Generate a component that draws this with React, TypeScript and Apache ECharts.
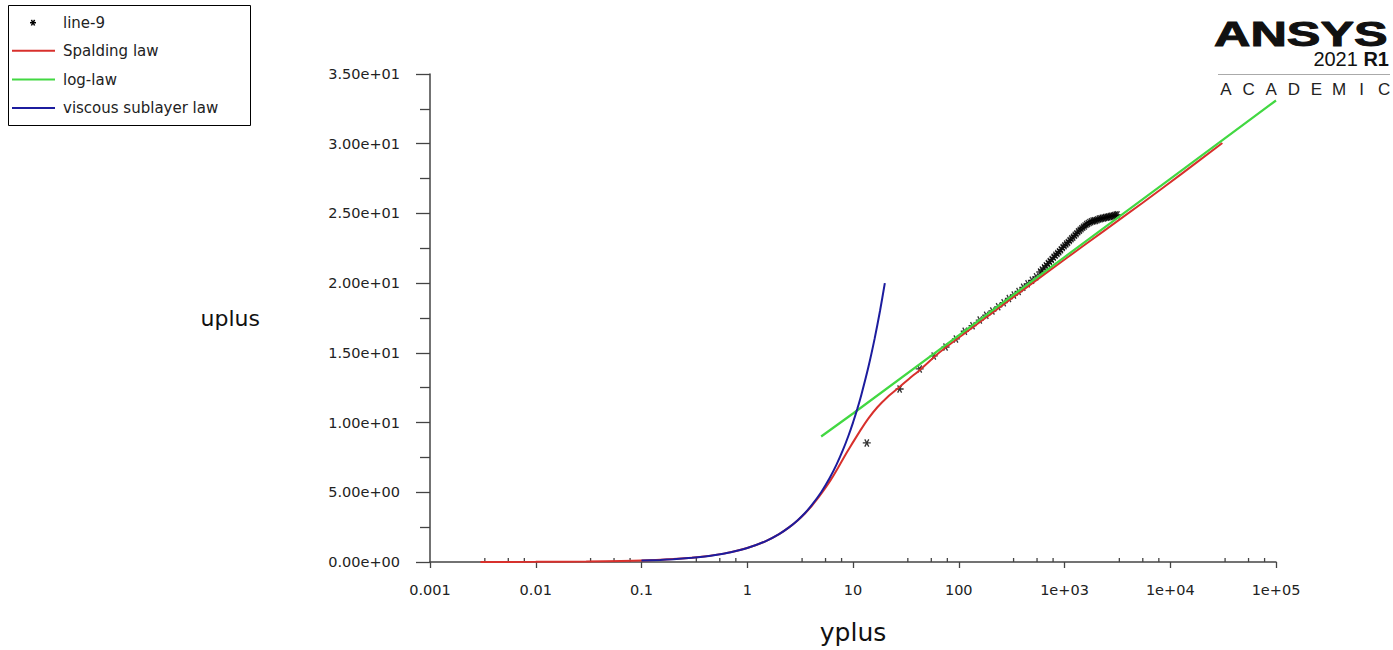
import React, { useEffect, useRef } from 'react';
import * as echarts from 'echarts';

// ---- data ----
const xTickValues = [0.001, 0.01, 0.1, 1, 10, 100, 1000, 10000, 100000];
const xTickLabels = ['0.001', '0.01', '0.1', '1', '10', '100', '1e+03', '1e+04', '1e+05'];
const minorTickFactors = [3.3, 5.5, 7.8];
const minorTickDecades = [0.001, 0.01, 0.1, 1, 10, 100, 1000, 10000];

const seriesNames = ['line-9', 'Spalding law', 'log-law', 'viscous sublayer law'];
const seriesColors = ['#000000', '#d8302c', '#42d842', '#1c1c9e'];

// line-9 : [yplus, uplus]
const line9: number[][] = [
  [13.5, 8.54], [27.6, 12.41], [42.7, 13.85], [58, 14.78], [75, 15.42], [94, 16.0],
  [114, 16.55], [135, 16.95], [158, 17.35], [182, 17.7], [208, 18.0], [236, 18.3],
  [266, 18.6], [298, 18.9], [332, 19.15], [368, 19.4], [407, 19.7], [448, 19.95],
  [492, 20.2], [539, 20.45], [589, 20.8], [612, 20.95], [642, 21.1], [668, 21.25],
  [698, 21.4], [727, 21.55], [758, 21.7], [790, 21.85], [822, 22.0], [856, 22.12],
  [890, 22.25], [925, 22.4], [962, 22.55], [1000, 22.68], [1038, 22.8], [1078, 22.92],
  [1120, 23.05], [1162, 23.18], [1206, 23.3], [1252, 23.43], [1298, 23.55], [1346, 23.68],
  [1395, 23.8], [1446, 23.9], [1498, 24.0], [1552, 24.1], [1608, 24.2], [1665, 24.28],
  [1724, 24.35], [1785, 24.4], [1848, 24.45], [1913, 24.48], [1980, 24.5], [2050, 24.55],
  [2120, 24.6], [2193, 24.62], [2268, 24.65], [2346, 24.68], [2426, 24.7], [2509, 24.72],
  [2594, 24.75], [2682, 24.78], [2772, 24.8], [2866, 24.82], [2962, 24.85], [3061, 24.88],
  [3164, 24.9],
];

// Spalding law : [yplus, uplus]
const spalding: number[][] = [
  [0.003, 0.003], [0.01, 0.01], [0.03, 0.03], [0.1, 0.1], [0.3, 0.3], [0.6, 0.6],
  [1, 1], [1.5, 1.5], [2.0, 2.0], [2.5, 2.5], [3.01, 3], [3.53, 3.5], [4.05, 4],
  [4.58, 4.5], [5.13, 5], [5.71, 5.5], [6.35, 6.05], [7.2, 6.75], [8.2, 7.5], [9.3, 8.2],
  [10.5, 8.85], [12, 9.55], [14, 10.3], [17, 11.1], [21, 11.8], [26.5, 12.45], [34, 13.15],
  [44, 13.85], [62.6, 14.9], [90.7, 15.85], [198, 17.75], [448, 19.75], [1025, 21.75],
  [2363, 23.75], [5451, 25.75], [12600, 27.8], [31100, 30.05],
];

// log-law : [yplus, uplus]
const logLaw: number[][] = [
  [5, 9.0], [10, 10.65], [100, 16.26], [1000, 21.87], [10000, 27.48], [100000, 33.1],
];

// viscous sublayer law : [yplus, uplus]
const viscous: number[][] = [
  [0.1, 0.1], [0.15, 0.15], [0.2, 0.2], [0.3, 0.3], [0.4, 0.4], [0.5, 0.5], [0.7, 0.7],
  [1, 1], [1.5, 1.5], [2, 2], [2.5, 2.5], [3, 3], [3.5, 3.5], [4, 4], [5, 5], [6, 6],
  [7, 7], [8, 8], [9, 9], [10, 10], [11, 11], [12, 12], [14, 14], [16, 16], [18, 18], [20, 20],
];

const FONT = '"DejaVu Sans", sans-serif';

const starPath =
  'path://M0,4.2L10,4.2L10,5.8L0,5.8Z' +
  'M3.2,0.2L8.2,8.9L6.8,9.8L1.8,1.1Z' +
  'M8.2,1.1L3.2,9.8L1.8,8.9L6.8,0.2Z';

function fmtY(v: number): string {
  if (v === 0) return '0.00e+00';
  const e = Math.floor(Math.log10(v) + 1e-9);
  const m = v / Math.pow(10, e);
  const es = (e < 0 ? '-' : '+') + String(Math.abs(e)).padStart(2, '0');
  return m.toFixed(2) + 'e' + es;
}

function fmtX(v: number): string {
  const e = Math.round(Math.log10(v));
  const idx = xTickValues.findIndex((t) => Math.round(Math.log10(t)) === e);
  return idx >= 0 ? xTickLabels[idx] : '';
}

export default function App() {
  const ref = useRef<HTMLDivElement>(null);
  useEffect(() => {
    if (!ref.current) return;
    const chart = echarts.init(ref.current, undefined, { renderer: 'svg' });

    const minorData: number[][] = [];
    minorTickDecades.forEach((d) => minorTickFactors.forEach((f) => minorData.push([d * f, 0])));

    const legendRowY = [22.7, 50.7, 79.5, 108];
    const legendGraphics: any[] = [
      {
        type: 'rect',
        shape: { x: 8.5, y: 5.5, width: 242, height: 120 },
        style: { fill: '#fff', stroke: '#000', lineWidth: 1 },
        z: 10,
      },
    ];
    const sx = 33, sy = legendRowY[0];
    [[-3, 0, 3, 0], [-1.6, -2.8, 1.6, 2.8], [1.6, -2.8, -1.6, 2.8]].forEach((s) =>
      legendGraphics.push({
        type: 'line',
        shape: { x1: sx + s[0], y1: sy + s[1], x2: sx + s[2], y2: sy + s[3] },
        style: { stroke: '#000', lineWidth: 1.5 },
        z: 11,
      })
    );
    seriesNames.forEach((name, i) => {
      if (i > 0) {
        legendGraphics.push({
          type: 'line',
          shape: { x1: 12, y1: legendRowY[i], x2: 55, y2: legendRowY[i] },
          style: { stroke: seriesColors[i], lineWidth: 2 },
          z: 11,
        });
      }
      legendGraphics.push({
        type: 'text',
        x: 63,
        y: legendRowY[i],
        style: {
          text: name,
          font: `15px ${FONT}`,
          fill: '#222',
          verticalAlign: 'middle',
          align: 'left',
        },
        z: 11,
      });
    });

    const logoGraphics: any[] = [
      {
        type: 'text',
        x: 1214,
        y: 34,
        scaleX: 1.44,
        style: {
          text: 'ANSYS',
          font: '900 35px "Liberation Sans", Arial, sans-serif',
          fill: '#111',
          stroke: '#111',
          lineWidth: 1,
          verticalAlign: 'middle',
          align: 'left',
        },
      },
      {
        type: 'text',
        x: 1389,
        y: 59,
        style: {
          text: '{a|2021 }{b|R1}',
          align: 'right',
          verticalAlign: 'middle',
          rich: {
            a: { font: '20px "Liberation Sans", Arial, sans-serif', fill: '#111' },
            b: { font: 'bold 20px "Liberation Sans", Arial, sans-serif', fill: '#111' },
          },
        },
      },
      {
        type: 'line',
        shape: { x1: 1218, y1: 74.5, x2: 1390, y2: 74.5 },
        style: { stroke: '#aaa', lineWidth: 1 },
      },
    ];
    'ACADEMIC'.split('').forEach((ch, i) => {
      logoGraphics.push({
        type: 'text',
        x: 1226 + i * 22.6,
        y: 89,
        style: {
          text: ch,
          font: '17px "Liberation Sans", Arial, sans-serif',
          fill: '#222',
          align: 'center',
          verticalAlign: 'middle',
        },
      });
    });

    const option: any = {
      animation: false,
      backgroundColor: '#fff',
      grid: { left: 430, right: 117, top: 74, bottom: 88, containLabel: false },
      xAxis: {
        type: 'log',
        logBase: 10,
        min: 0.001,
        max: 100000,
        interval: 1,
        name: 'yplus',
        nameLocation: 'middle',
        nameGap: 58,
        nameTextStyle: { fontFamily: FONT, fontSize: 25, color: '#111' },
        axisLine: { lineStyle: { color: '#444', width: 1.5 } },
        axisTick: { show: true, length: 6, lineStyle: { color: '#444', width: 1.3 } },
        minorTick: { show: false },
        splitLine: { show: false },
        axisLabel: {
          formatter: fmtX,
          fontFamily: FONT,
          fontSize: 14.5,
          color: '#222',
          margin: 20,
        },
      },
      yAxis: {
        type: 'value',
        min: 0,
        max: 35,
        interval: 5,
        name: 'uplus',
        nameLocation: 'middle',
        nameRotate: 0,
        nameGap: 170,
        nameTextStyle: { fontFamily: FONT, fontSize: 22, color: '#111' },
        axisLine: { show: true, lineStyle: { color: '#444', width: 1.5 } },
        axisTick: { show: true, length: 14, lineStyle: { color: '#444', width: 1.3 } },
        minorTick: { show: true, splitNumber: 2, length: 10, lineStyle: { color: '#444', width: 1.3 } },
        splitLine: { show: false },
        axisLabel: {
          formatter: fmtY,
          fontFamily: FONT,
          fontSize: 14.5,
          color: '#222',
          margin: 30,
        },
      },
      series: [
        {
          name: 'minor-ticks',
          type: 'custom',
          coordinateSystem: 'cartesian2d',
          silent: true,
          clip: false,
          data: minorData,
          encode: { x: 0, y: 1 },
          renderItem: (params: any, api: any) => {
            const p = api.coord([api.value(0), api.value(1)]);
            return {
              type: 'line',
              shape: { x1: p[0], y1: p[1], x2: p[0], y2: p[1] - 4 },
              style: { stroke: '#444', lineWidth: 1.3 },
            };
          },
          z: 1,
        },
        {
          name: seriesNames[0],
          type: 'scatter',
          data: line9,
          symbol: starPath,
          symbolSize: 8,
          itemStyle: { color: seriesColors[0] },
          z: 2,
        },
        {
          name: seriesNames[1],
          type: 'line',
          data: spalding,
          showSymbol: false,
          symbol: 'none',
          smooth: 0.2,
          lineStyle: { color: seriesColors[1], width: 2 },
          z: 3,
        },
        {
          name: seriesNames[2],
          type: 'line',
          data: logLaw,
          showSymbol: false,
          symbol: 'none',
          lineStyle: { color: seriesColors[2], width: 2.2 },
          z: 4,
        },
        {
          name: seriesNames[3],
          type: 'line',
          data: viscous,
          showSymbol: false,
          symbol: 'none',
          smooth: 0.2,
          lineStyle: { color: seriesColors[3], width: 2 },
          z: 5,
        },
      ],
      graphic: [...legendGraphics, ...logoGraphics],
    };
    chart.setOption(option);
    return () => chart.dispose();
  }, []);

  return <div ref={ref} style={{ width: 1393, height: 650, position: 'absolute', left: 0, top: 0 }} />;
}
